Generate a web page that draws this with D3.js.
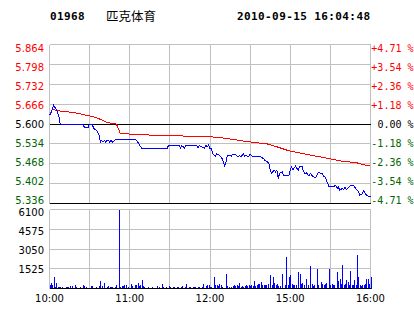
<!DOCTYPE html>
<html>
<head>
<meta charset="utf-8">
<script src="https://cdn.jsdelivr.net/npm/d3@7"></script>
<style>
  html, body { margin: 0; padding: 0; background: #fff; }
  svg { display: block; }
</style>
</head>
<body>
<svg id="chart" width="414" height="314"></svg>
<script>
// header
const stockCode = "01968";
const stockName = "匹克体育";
const stamp = "2010-09-15 16:04:48";

// axes
const prevClose = 5.600;
const priceTicks = [5.864, 5.798, 5.732, 5.666, 5.600, 5.534, 5.468, 5.402, 5.336];
const pctTicks = ["+4.71 %", "+3.54 %", "+2.36 %", "+1.18 %", "0.00 %", "-1.18 %", "-2.36 %", "-3.54 %", "-4.71 %"];
const volTicks = [6100, 4575, 3050, 1525, 0];
const timeLabels = ["10:00", "11:00", "12:00", "15:00", "16:00"];
const timeLabelMinutes = [0, 60, 120, 180, 240];

// price line (minute of session, price)
const priceMinutes = [0, 1, 3, 4, 5, 6, 7, 8, 25, 26, 29, 30, 32, 33, 35, 37, 38, 39, 40, 41,
  42, 43, 44, 45, 46, 47, 49, 50, 64, 66, 68, 69, 88, 89, 97, 98, 99, 101, 102, 110,
  111, 112, 114, 116, 117, 118, 119, 120, 121, 122, 124, 125, 127, 128, 129, 130, 131, 132, 133, 135,
  136, 137, 139, 141, 142, 143, 145, 146, 147, 149, 150, 152, 155, 156, 158, 160, 161, 163, 164, 165,
  166, 168, 169, 170, 171, 172, 174, 175, 179, 180, 181, 182, 184, 185, 186, 187, 189, 190, 191, 192,
  194, 195, 196, 197, 199, 200, 201, 204, 205, 206, 207, 208, 209, 212, 214, 215, 216, 217, 219, 220,
  221, 222, 224, 225, 227, 229, 230, 231, 232, 234, 235, 236, 237, 239, 240];
const priceValues = [5.630, 5.635, 5.663, 5.655, 5.650, 5.640, 5.625, 5.600, 5.600, 5.590, 5.590, 5.600, 5.600, 5.585, 5.580, 5.565, 5.540, 5.546, 5.540, 5.546,
  5.540, 5.546, 5.546, 5.540, 5.546, 5.540, 5.546, 5.550, 5.550, 5.540, 5.525, 5.520, 5.520, 5.528, 5.528, 5.520, 5.528, 5.520, 5.528, 5.528,
  5.520, 5.528, 5.524, 5.520, 5.530, 5.524, 5.530, 5.519, 5.519, 5.502, 5.493, 5.500, 5.496, 5.491, 5.485, 5.474, 5.460, 5.474, 5.496, 5.496,
  5.493, 5.500, 5.500, 5.491, 5.496, 5.491, 5.500, 5.493, 5.496, 5.491, 5.500, 5.491, 5.491, 5.493, 5.491, 5.485, 5.480, 5.474, 5.469, 5.449,
  5.436, 5.447, 5.441, 5.447, 5.419, 5.436, 5.441, 5.430, 5.430, 5.447, 5.458, 5.449, 5.460, 5.452, 5.447, 5.460, 5.458, 5.441, 5.436, 5.438,
  5.427, 5.436, 5.430, 5.425, 5.423, 5.430, 5.438, 5.436, 5.425, 5.425, 5.414, 5.402, 5.391, 5.391, 5.397, 5.386, 5.391, 5.380, 5.386, 5.382,
  5.391, 5.382, 5.391, 5.397, 5.397, 5.386, 5.380, 5.375, 5.364, 5.369, 5.380, 5.369, 5.364, 5.358, 5.358];

// average price line
const avgMinutes = [0, 2, 8, 14, 22, 27, 33, 40, 43, 50, 52, 53, 69, 83, 102, 117, 127, 149, 164, 179, 189, 209, 219, 229, 234, 240];
const avgValues = [5.630, 5.648, 5.643, 5.640, 5.635, 5.629, 5.624, 5.612, 5.605, 5.600, 5.579, 5.568, 5.565, 5.561, 5.560, 5.559, 5.555, 5.541, 5.533, 5.511, 5.502, 5.485, 5.476, 5.472, 5.466, 5.460];

// volume per minute, 0..240
const volumes = [
  250, 460, 260, 900, 130, 460, 120, 150, 150, 150,
  0, 0, 130, 150, 130, 160, 0, 200, 0, 260,
  130, 0, 0, 100, 0, 300, 200, 130, 0, 0,
  0, 200, 200, 0, 0, 130, 0, 200, 560, 200,
  0, 460, 0, 100, 200, 150, 150, 150, 0, 150,
  300, 0, 6100, 130, 200, 200, 260, 300, 0, 130,
  0, 380, 200, 0, 260, 260, 460, 200, 260, 640,
  200, 130, 0, 0, 150, 0, 0, 130, 0, 0,
  200, 0, 130, 0, 380, 150, 0, 130, 0, 200,
  150, 0, 130, 150, 0, 130, 150, 0, 130, 160,
  0, 130, 380, 0, 130, 150, 0, 130, 150, 130,
  0, 150, 130, 0, 150, 380, 0, 200, 300, 300,
  150, 130, 0, 900, 300, 250, 200, 380, 250, 130,
  0, 0, 1150, 200, 150, 0, 130, 200, 250, 200,
  250, 200, 460, 150, 200, 130, 200, 250, 200, 250,
  200, 250, 200, 560, 200, 300, 380, 380, 510, 300,
  300, 300, 250, 380, 0, 1020, 300, 900, 460, 250,
  380, 200, 200, 0, 1150, 0, 250, 2430, 250, 900,
  1020, 380, 300, 250, 300, 0, 1280, 1150, 380, 460,
  250, 0, 770, 300, 0, 1740, 380, 200, 300, 0,
  1540, 250, 0, 510, 380, 300, 380, 460, 0, 1540,
  300, 380, 300, 250, 0, 1280, 560, 770, 380, 1790,
  250, 380, 640, 510, 250, 1330, 300, 250, 640, 300,
  2560, 900, 250, 200, 300, 250, 380, 720, 720, 380, 900
];

const svg = d3.select("#chart");
const left = 49.5, right = 370.5;
const priceTop = 44.5, priceBottom = 203.5;
const volTop = 209.5, volBottom = 288.5;
const gridColor = "#c0c0c0";
const upColor = "#ff0000", downColor = "#006400";
const labelFont = "DejaVu Sans, Verdana, sans-serif";
const monoFont = "DejaVu Sans Mono, monospace";

const x = d3.scaleLinear().domain([0, 240]).range([left, right]);
const y = d3.scaleLinear().domain([5.336, 5.864]).range([priceBottom, priceTop]);
const yv = d3.scaleLinear().domain([0, 6100]).range([volBottom, volTop]);
const px = v => Math.round(v - 0.5) + 0.5;

// header text
svg.append("text").attr("x", 50).attr("y", 20)
  .attr("font-family", monoFont).attr("font-weight", "bold").attr("font-size", 11)
  .attr("letter-spacing", 0.4).text(stockCode);
svg.append("text").attr("x", 106).attr("y", 20.5)
  .attr("font-family", "Noto Sans CJK SC").attr("font-size", 12.5).text(stockName);
svg.append("text").attr("x", 237).attr("y", 20)
  .attr("font-family", monoFont).attr("font-weight", "bold").attr("font-size", 11)
  .attr("letter-spacing", 0.4).text(stamp);

const gridMinutes = d3.range(0, 241, 30);

// price panel grid
const pg = svg.append("g").attr("shape-rendering", "crispEdges");
pg.selectAll("line.h").data(priceTicks).join("line")
  .attr("x1", left).attr("x2", right)
  .attr("y1", d => px(y(d))).attr("y2", d => px(y(d)))
  .attr("stroke", gridColor);
pg.selectAll("line.v").data(gridMinutes).join("line")
  .attr("x1", d => px(x(d))).attr("x2", d => px(x(d)))
  .attr("y1", priceTop).attr("y2", priceBottom)
  .attr("stroke", gridColor);

// volume panel grid
const vg = svg.append("g").attr("shape-rendering", "crispEdges");
vg.selectAll("line.h").data(volTicks).join("line")
  .attr("x1", left).attr("x2", right)
  .attr("y1", d => px(yv(d))).attr("y2", d => px(yv(d)))
  .attr("stroke", gridColor);
vg.selectAll("line.v").data(gridMinutes).join("line")
  .attr("x1", d => px(x(d))).attr("x2", d => px(x(d)))
  .attr("y1", volTop).attr("y2", volBottom)
  .attr("stroke", gridColor);

// volume bars
svg.append("g").attr("shape-rendering", "crispEdges")
  .selectAll("rect").data(volumes).join("rect")
  .attr("x", (d, i) => Math.round(x(i)))
  .attr("width", 1)
  .attr("y", d => Math.round(yv(d)))
  .attr("height", d => volBottom - Math.round(yv(d)))
  .attr("fill", "#0000ff");

// black reference lines
const black = svg.append("g").attr("shape-rendering", "crispEdges").attr("stroke", "#000");
[y(prevClose), priceBottom].forEach(v => {
  black.append("line").attr("x1", left).attr("x2", right).attr("y1", px(v)).attr("y2", px(v));
});
black.append("line").attr("x1", left).attr("x2", right).attr("y1", volBottom).attr("y2", volBottom);

// average line and price line
const avgData = avgMinutes.map((m, i) => [m, avgValues[i]]);
const priceData = priceMinutes.map((m, i) => [m, priceValues[i]]);
const line = d3.line().x(d => x(d[0])).y(d => y(d[1]));
svg.append("path").datum(avgData).attr("d", line)
  .attr("fill", "none").attr("stroke", upColor).attr("stroke-width", 1).attr("shape-rendering", "crispEdges");
svg.append("path").datum(priceData).attr("d", line)
  .attr("fill", "none").attr("stroke", "#0000ff").attr("stroke-width", 1).attr("shape-rendering", "crispEdges");

// left price labels and right percent labels
const labelY = v => 124 + (y(v) - 124) * 0.956;
const tickColor = v => v > prevClose ? upColor : (v < prevClose ? downColor : "#000");
svg.append("g").selectAll("text").data(priceTicks).join("text")
  .attr("x", 44).attr("y", d => labelY(d)).attr("dy", "0.36em")
  .attr("text-anchor", "end")
  .attr("font-family", labelFont).attr("font-size", 10)
  .attr("fill", tickColor)
  .text(d => d.toFixed(3));
svg.append("g").selectAll("text").data(pctTicks).join("text")
  .attr("x", 413.5).attr("y", (d, i) => labelY(priceTicks[i])).attr("dy", "0.36em")
  .attr("text-anchor", "end")
  .attr("font-family", monoFont).attr("font-size", 10)
  .attr("fill", (d, i) => tickColor(priceTicks[i]))
  .text(d => d);

// volume labels
svg.append("g").selectAll("text").data(volTicks.filter(d => d > 0)).join("text")
  .attr("x", 44).attr("y", d => yv(d) * 0.962 + 11.2).attr("dy", "0.36em")
  .attr("text-anchor", "end")
  .attr("font-family", labelFont).attr("font-size", 10)
  .attr("fill", "#000")
  .text(d => d);

// time labels
svg.append("g").selectAll("text").data(timeLabels).join("text")
  .attr("x", (d, i) => x(timeLabelMinutes[i])).attr("y", 302)
  .attr("text-anchor", "middle")
  .attr("font-family", labelFont).attr("font-size", 10)
  .attr("fill", "#000")
  .text(d => d);
</script>
</body>
</html>
